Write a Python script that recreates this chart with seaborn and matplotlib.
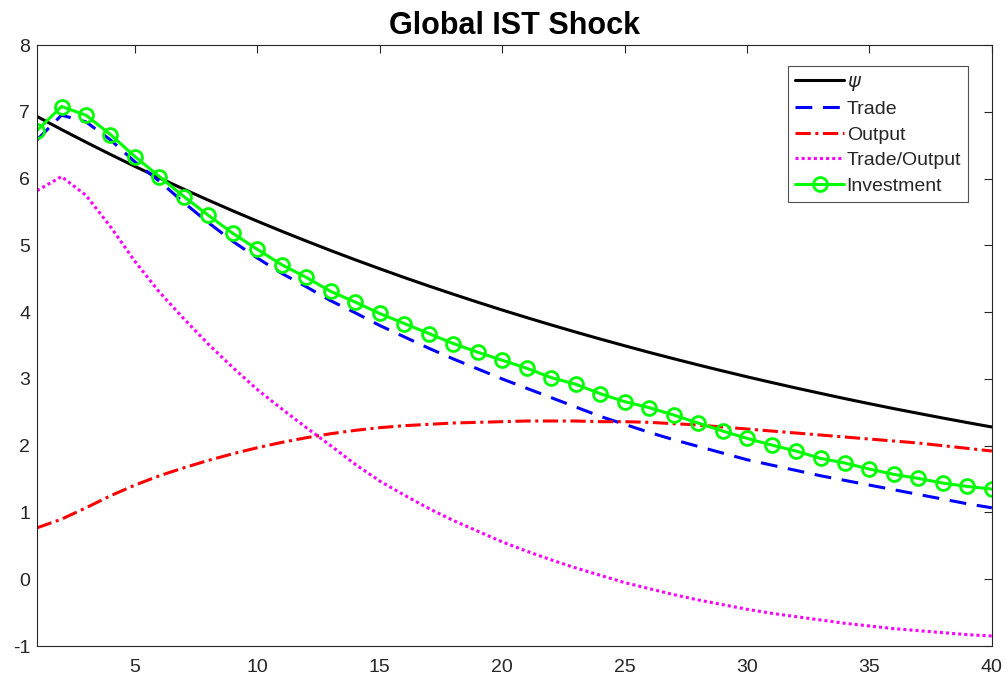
import numpy as np
import pandas as pd
import seaborn as sns
import matplotlib.pyplot as plt

periods = list(range(1, 41))

psi = [6.93, 6.735, 6.546, 6.362, 6.183, 6.010, 5.841, 5.677, 5.517, 5.362,
       5.211, 5.065, 4.922, 4.784, 4.650, 4.519, 4.392, 4.269, 4.149, 4.032,
       3.919, 3.809, 3.702, 3.598, 3.497, 3.398, 3.303, 3.210, 3.120, 3.032,
       2.947, 2.864, 2.784, 2.705, 2.629, 2.555, 2.484, 2.414, 2.346, 2.280]

trade = [6.58, 6.95, 6.85, 6.58, 6.25, 5.96, 5.64, 5.34, 5.06, 4.81,
         4.58, 4.38, 4.17, 3.99, 3.80, 3.63, 3.46, 3.30, 3.15, 3.00,
         2.86, 2.72, 2.58, 2.44, 2.32, 2.20, 2.09, 1.99, 1.89, 1.79,
         1.71, 1.63, 1.55, 1.48, 1.41, 1.34, 1.27, 1.20, 1.13, 1.07]

output = [0.77, 0.90, 1.07, 1.25, 1.41, 1.55, 1.67, 1.78, 1.88, 1.97,
          2.05, 2.12, 2.18, 2.23, 2.27, 2.30, 2.32, 2.34, 2.35, 2.36,
          2.37, 2.37, 2.37, 2.36, 2.36, 2.35, 2.33, 2.31, 2.28, 2.25,
          2.22, 2.19, 2.16, 2.13, 2.10, 2.07, 2.04, 2.00, 1.96, 1.92]

trade_output = [5.82, 6.03, 5.75, 5.28, 4.76, 4.30, 3.90, 3.52, 3.17, 2.84,
                2.55, 2.27, 2.00, 1.72, 1.47, 1.26, 1.06, 0.88, 0.72, 0.56,
                0.42, 0.29, 0.17, 0.06, -0.05, -0.14, -0.23, -0.31, -0.38, -0.45,
                -0.51, -0.56, -0.61, -0.66, -0.70, -0.74, -0.77, -0.80, -0.83, -0.85]

investment = [6.72, 7.08, 6.95, 6.66, 6.33, 6.03, 5.73, 5.45, 5.18, 4.94,
              4.71, 4.52, 4.31, 4.15, 3.98, 3.83, 3.68, 3.53, 3.40, 3.28,
              3.16, 3.02, 2.92, 2.78, 2.66, 2.57, 2.46, 2.34, 2.22, 2.11,
              2.01, 1.92, 1.81, 1.74, 1.65, 1.57, 1.51, 1.44, 1.39, 1.35]

df = pd.DataFrame({'t': periods, 'psi': psi, 'trade': trade, 'output': output,
                   'trade_output': trade_output, 'investment': investment})

sns.set_style('white')
plt.rcParams['font.family'] = ['Liberation Sans', 'DejaVu Sans']
plt.rcParams['axes.unicode_minus'] = False

fig = plt.figure(figsize=(10.06, 6.85), dpi=100)
ax = fig.add_axes([0.0368, 0.0569, 0.9492, 0.8773])

lw = 2.2
sns.lineplot(data=df, x='t', y='psi', ax=ax, color='black', lw=lw, label=r'$\psi$')
sns.lineplot(data=df, x='t', y='trade', ax=ax, color='blue', lw=lw, label='Trade')
ax.lines[-1].set_dashes([5.5, 3.5])
sns.lineplot(data=df, x='t', y='output', ax=ax, color='red', lw=lw, label='Output')
ax.lines[-1].set_dashes([5, 1.5, 1, 1.5])
sns.lineplot(data=df, x='t', y='trade_output', ax=ax, color='magenta', lw=lw,
             label='Trade/Output')
ax.lines[-1].set_dashes([1, 1])
sns.lineplot(data=df, x='t', y='investment', ax=ax, color='lime', lw=lw,
             marker='o', markersize=10, markerfacecolor='none',
             markeredgecolor='lime', markeredgewidth=2, label='Investment')

ax.set_xlim(1, 40)
ax.set_ylim(-1, 8)
ax.set_xticks([5, 10, 15, 20, 25, 30, 35, 40])
ax.set_yticks(range(-1, 9))
ax.set_xlabel('')
ax.set_ylabel('')
ax.tick_params(direction='in', top=True, right=True, length=6, width=0.8,
               labelsize=14, labelcolor='#262626', color='#262626')
ax.tick_params(axis='x', pad=9)
ax.tick_params(axis='y', pad=5)
for s in ax.spines.values():
    s.set_color('#262626')
    s.set_linewidth(0.8)

ax.set_title('Global IST Shock', fontsize=22, fontweight='bold', color='black', pad=8)

leg = ax.legend(loc='upper right', bbox_to_anchor=(0.975, 0.965), fontsize=14,
                frameon=True, fancybox=False, handlelength=2.5, handletextpad=0.15,
                borderpad=0.35, labelspacing=0.41, borderaxespad=0)
leg.get_frame().set_edgecolor('#262626')
leg.get_frame().set_linewidth(0.8)

fig.savefig('out.png', dpi=100)
